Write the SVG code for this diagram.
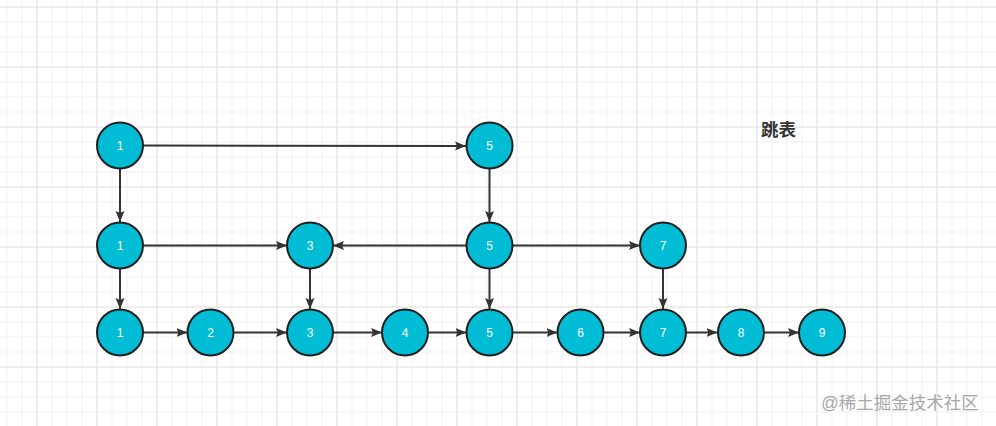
<svg xmlns="http://www.w3.org/2000/svg" width="996" height="426" viewBox="0 0 996 426">
<defs>
<pattern id="minor" width="15" height="15" patternUnits="userSpaceOnUse" x="6.5" y="6.5">
<path d="M0.5 0V15M0 0.5H15" fill="none" stroke="#f0f0f0" stroke-width="1"/>
</pattern>
<pattern id="major" width="60" height="60" patternUnits="userSpaceOnUse" x="36.5" y="6.5">
<path d="M0.5 0V60M0 0.5H60" fill="none" stroke="#e4e4e4" stroke-width="1"/>
</pattern>
<marker id="ah" markerUnits="userSpaceOnUse" markerWidth="12" markerHeight="10" refX="11" refY="5" orient="auto">
<path d="M0 0.5L11 5L0 9.5L2 5Z" fill="#333"/>
</marker>
<style>
.n circle{fill:#00bcd4;stroke:#1f1f1f;stroke-width:2}
.n text{fill:#fff;font-family:"Liberation Sans",Arial,sans-serif;font-size:12px;text-anchor:middle;dominant-baseline:central}
#edges line{stroke:#333;stroke-width:2;marker-end:url(#ah)}
</style>
</defs>
<rect width="996" height="426" fill="#fff"/>
<rect width="996" height="426" fill="url(#minor)"/>
<rect width="996" height="426" fill="url(#major)"/>
<g id="edges">
<line x1="143" y1="145.5" x2="466" y2="146"/>
<line x1="143" y1="245.5" x2="287" y2="245.5"/>
<line x1="466.5" y1="245.5" x2="333" y2="245.5"/>
<line x1="512.5" y1="245.5" x2="640" y2="245.5"/>
<line x1="120" y1="169" x2="120" y2="222"/>
<line x1="120" y1="269" x2="120" y2="309"/>
<line x1="310" y1="269" x2="310" y2="309"/>
<line x1="489.5" y1="169" x2="489.5" y2="222"/>
<line x1="489.5" y1="269" x2="489.5" y2="309"/>
<line x1="663" y1="269" x2="663" y2="309"/>
<line x1="143" y1="332.5" x2="187.5" y2="332.5"/>
<line x1="234" y1="332.5" x2="287" y2="332.5"/>
<line x1="333" y1="332.5" x2="382" y2="332.5"/>
<line x1="428" y1="332.5" x2="466.5" y2="332.5"/>
<line x1="512.5" y1="332.5" x2="557.5" y2="332.5"/>
<line x1="604" y1="332.5" x2="640" y2="332.5"/>
<line x1="686" y1="332.5" x2="717.5" y2="332.5"/>
<line x1="764" y1="332.5" x2="799" y2="332.5"/>
</g>
<g id="n1a" class="n"><circle cx="120" cy="145.5" r="23"/><text x="120" y="145.5">1</text></g>
<g id="n5a" class="n"><circle cx="489.5" cy="145.5" r="23"/><text x="489.5" y="145.5">5</text></g>
<g id="n1b" class="n"><circle cx="120" cy="245.5" r="23"/><text x="120" y="245.5">1</text></g>
<g id="n3b" class="n"><circle cx="310" cy="245.5" r="23"/><text x="310" y="245.5">3</text></g>
<g id="n5b" class="n"><circle cx="489.5" cy="245.5" r="23"/><text x="489.5" y="245.5">5</text></g>
<g id="n7b" class="n"><circle cx="663" cy="245.5" r="23"/><text x="663" y="245.5">7</text></g>
<g id="n1c" class="n"><circle cx="120" cy="332.5" r="23"/><text x="120" y="332.5">1</text></g>
<g id="n2c" class="n"><circle cx="210.5" cy="332.5" r="23"/><text x="210.5" y="332.5">2</text></g>
<g id="n3c" class="n"><circle cx="310" cy="332.5" r="23"/><text x="310" y="332.5">3</text></g>
<g id="n4c" class="n"><circle cx="405" cy="332.5" r="23"/><text x="405" y="332.5">4</text></g>
<g id="n5c" class="n"><circle cx="489.5" cy="332.5" r="23"/><text x="489.5" y="332.5">5</text></g>
<g id="n6c" class="n"><circle cx="580.5" cy="332.5" r="23"/><text x="580.5" y="332.5">6</text></g>
<g id="n7c" class="n"><circle cx="663" cy="332.5" r="23"/><text x="663" y="332.5">7</text></g>
<g id="n8c" class="n"><circle cx="741" cy="332.5" r="23"/><text x="741" y="332.5">8</text></g>
<g id="n9c" class="n"><circle cx="822" cy="332.5" r="23"/><text x="822" y="332.5">9</text></g>
<text x="778.5" y="135.5" font-family="'Liberation Sans','Noto Sans CJK SC',sans-serif" font-size="17.5" font-weight="bold" fill="#333" text-anchor="middle">跳表</text>
<text x="900" y="409" font-family="'Liberation Sans','Noto Sans CJK SC',sans-serif" font-size="17.5" fill="#a8a8a8" text-anchor="middle">@稀土掘金技术社区</text>
</svg>
